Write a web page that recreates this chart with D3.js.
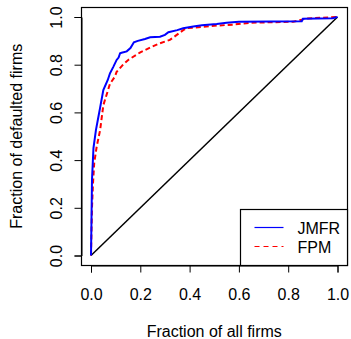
<!DOCTYPE html>
<html>
<head>
<meta charset="utf-8">
<script src="https://cdn.jsdelivr.net/npm/d3@7"></script>
<style>
html,body{margin:0;padding:0;background:#fff;}
svg{display:block;}
text{font-family:"Liberation Sans",Arial,sans-serif;font-size:16px;fill:#000;}
</style>
</head>
<body>
<svg id="chart" width="351" height="339"></svg>
<script>
// Data
const jmfrX = [0, 0.002, 0.004, 0.01, 0.02, 0.028, 0.037, 0.05, 0.068, 0.077, 0.09, 0.104, 0.112, 0.118, 0.124, 0.145, 0.16, 0.174, 0.19, 0.219, 0.24, 0.28, 0.3, 0.314, 0.35, 0.374, 0.415, 0.45, 0.51, 0.55, 0.6, 0.855, 0.86, 0.98, 1.0];
const jmfrY = [0, 0.15, 0.317, 0.45, 0.526, 0.57, 0.62, 0.694, 0.736, 0.764, 0.79, 0.82, 0.83, 0.848, 0.85, 0.856, 0.87, 0.894, 0.9, 0.908, 0.915, 0.917, 0.925, 0.936, 0.945, 0.953, 0.96, 0.965, 0.971, 0.976, 0.98, 0.982, 0.993, 0.995, 1.0];
const fpmX = [0, 0.004, 0.008, 0.013, 0.023, 0.037, 0.05, 0.077, 0.097, 0.104, 0.13, 0.151, 0.2, 0.246, 0.28, 0.32, 0.348, 0.374, 0.388, 0.415, 0.51, 0.577, 0.645, 0.82, 0.86, 0.875, 1.0];
const fpmY = [0, 0.2, 0.3, 0.387, 0.456, 0.526, 0.63, 0.72, 0.75, 0.77, 0.8, 0.82, 0.852, 0.875, 0.89, 0.904, 0.925, 0.945, 0.953, 0.955, 0.964, 0.968, 0.976, 0.98, 0.99, 0.994, 1.0];
const diagX = [0, 1];
const diagY = [0, 1];
const xTicks = ["0.0", "0.2", "0.4", "0.6", "0.8", "1.0"];
const yTicks = ["0.0", "0.2", "0.4", "0.6", "0.8", "1.0"];
const seriesNames = ["JMFR", "FPM"];
const seriesColors = ["#0000FF", "#FF0000"];

const svg = d3.select("#chart");
const x = d3.scaleLinear().domain([0, 1]).range([91, 337.5]);
const y = d3.scaleLinear().domain([0, 1]).range([255.5, 17]);
const ext = 0.04;
const bx0 = x(-ext), bx1 = x(1 + ext), by0 = y(-ext), by1 = y(1 + ext);

// series lines
const line = d3.line().x(d => x(d[0])).y(d => y(d[1]));
function pts(xs, ys){ return xs.map((v,i)=>[v, ys[i]]); }

svg.append("path").attr("d", line(pts(diagX, diagY)))
  .attr("fill","none").attr("stroke","#000").attr("stroke-width",1.5);
svg.append("path").attr("d", line(pts(fpmX, fpmY)))
  .attr("fill","none").attr("stroke",seriesColors[1]).attr("stroke-width",2)
  .attr("stroke-dasharray","5,3");
svg.append("path").attr("d", line(pts(jmfrX, jmfrY)))
  .attr("fill","none").attr("stroke",seriesColors[0]).attr("stroke-width",2);

// box
svg.append("rect").attr("x", Math.round(bx0)+0.5).attr("y", Math.round(by1)+0.5)
  .attr("width", Math.round(bx1)-Math.round(bx0)).attr("height", Math.round(by0)-Math.round(by1))
  .attr("fill","none").attr("stroke","#000").attr("stroke-width",1.2);

// x axis
const xAxis = d3.axisBottom(x).tickValues(xTicks.map(Number)).tickFormat((d,i)=>xTicks[i]).tickSize(7).tickPadding(18);
const gx = svg.append("g").attr("transform", `translate(0,${Math.round(by0)+0.5})`).call(xAxis);
gx.select(".domain").attr("stroke","#000");
gx.selectAll(".tick line").attr("stroke","#000");
gx.selectAll("text").style("font-size","16px").style("font-family",'"Liberation Sans",Arial,sans-serif').attr("fill","#000").attr("dy","0");
gx.selectAll(".tick text").attr("y", 300 - (Math.round(by0)+0.5));

// y axis
const yAxis = d3.axisLeft(y).tickValues(yTicks.map(Number)).tickFormat((d,i)=>yTicks[i]).tickSize(7);
const gy = svg.append("g").attr("transform", `translate(${Math.round(bx0)+0.5},0)`).call(yAxis);
gy.select(".domain").attr("stroke","#000");
gy.selectAll(".tick line").attr("stroke","#000");
gy.selectAll(".tick text")
  .attr("x", null).attr("dy", null).attr("y", null)
  .attr("text-anchor","middle")
  .attr("transform", `translate(${61.5 - (Math.round(bx0)+0.5)},0) rotate(-90)`)
  .style("font-size","16px").style("font-family",'"Liberation Sans",Arial,sans-serif').attr("fill","#000");

// titles
svg.append("text").attr("x", (x(0)+x(1))/2).attr("y", 337).attr("text-anchor","middle").text("Fraction of all firms");
svg.append("text").attr("transform", `translate(21.5,${(y(0)+y(1))/2}) rotate(-90)`).attr("text-anchor","middle").text("Fraction of defaulted firms");

// legend
const lg = svg.append("g");
lg.append("rect").attr("x", 240.5).attr("y", 209.5).attr("width", Math.round(bx1)-240).attr("height", Math.round(by0)-209)
  .attr("fill","#fff").attr("stroke","#000").attr("stroke-width",1.2);
const legY = [227.5, 246.5];
seriesNames.forEach((n,i)=>{
  lg.append("line").attr("x1",254.5).attr("x2",283.5).attr("y1",legY[i]).attr("y2",legY[i])
    .attr("stroke",seriesColors[i]).attr("stroke-width",1.2)
    .attr("stroke-dasharray", i===1 ? "5,4" : null);
  lg.append("text").attr("x",297.5).attr("y",legY[i]+6).text(n);
});
</script>
</body>
</html>
